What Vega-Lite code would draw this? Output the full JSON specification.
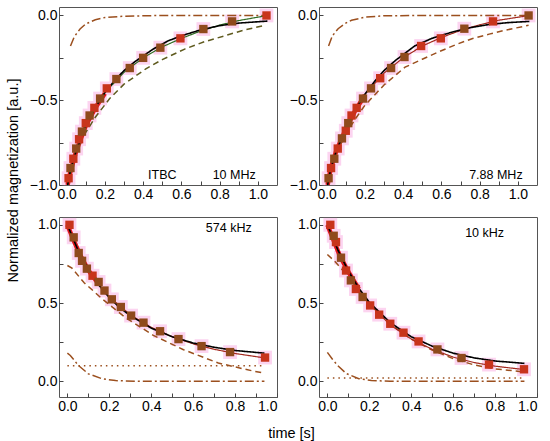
{
  "$schema": "https://vega.github.io/schema/vega-lite/v6.json",
  "padding": {"left": 4, "top": 6, "right": 5, "bottom": 3},
  "config": {
    "font": "Liberation Sans",
    "view": {"stroke": "#555555", "strokeWidth": 1},
    "axis": {
      "grid": false,
      "domain": false,
      "labelFont": "Liberation Sans",
      "labelFontSize": 14,
      "labelColor": "#000000",
      "tickColor": "#444444",
      "tickSize": -4,
      "labelPadding": 6,
      "titleFont": "Liberation Sans",
      "titleFontSize": 14.5,
      "titleFontWeight": "normal",
      "titleColor": "#000000"
    },
    "text": {"font": "Liberation Sans", "fontSize": 12.5, "color": "#000000"}
  },
  "data": {
    "values": [
      {"p": 1, "s": "red", "t": 0.005, "m": -1.0},
      {"p": 1, "s": "red", "t": 0.02, "m": -0.92},
      {"p": 1, "s": "red", "t": 0.05, "m": -0.8},
      {"p": 1, "s": "red", "t": 0.1, "m": -0.65},
      {"p": 1, "s": "red", "t": 0.15, "m": -0.545},
      {"p": 1, "s": "red", "t": 0.2, "m": -0.46},
      {"p": 1, "s": "dashg", "t": 0.005, "m": -0.92},
      {"p": 1, "s": "dashg", "t": 0.05, "m": -0.8},
      {"p": 1, "s": "dashg", "t": 0.1, "m": -0.69},
      {"p": 1, "s": "dashg", "t": 0.15, "m": -0.6},
      {"p": 1, "s": "dashg", "t": 0.225, "m": -0.49},
      {"p": 1, "s": "dashg", "t": 0.3, "m": -0.405},
      {"p": 1, "s": "dashg", "t": 0.414, "m": -0.315},
      {"p": 1, "s": "dashg", "t": 0.5, "m": -0.26},
      {"p": 1, "s": "dashg", "t": 0.62, "m": -0.197},
      {"p": 1, "s": "dashg", "t": 0.72, "m": -0.155},
      {"p": 1, "s": "dashg", "t": 0.826, "m": -0.12},
      {"p": 1, "s": "dashg", "t": 0.93, "m": -0.085},
      {"p": 1, "s": "dashg", "t": 1.03, "m": -0.06},
      {"p": 1, "s": "dashdot", "t": 0.02, "m": -0.18},
      {"p": 1, "s": "dashdot", "t": 0.04, "m": -0.125},
      {"p": 1, "s": "dashdot", "t": 0.07, "m": -0.08},
      {"p": 1, "s": "dashdot", "t": 0.1, "m": -0.05},
      {"p": 1, "s": "dashdot", "t": 0.15, "m": -0.025},
      {"p": 1, "s": "dashdot", "t": 0.2, "m": -0.012},
      {"p": 1, "s": "dashdot", "t": 0.3, "m": -0.004},
      {"p": 1, "s": "dashdot", "t": 0.5, "m": 0.0},
      {"p": 1, "s": "dashdot", "t": 1.05, "m": 0.0},
      {"p": 1, "s": "fitg", "t": 0.005, "m": -1.0},
      {"p": 1, "s": "fitg", "t": 0.05, "m": -0.79},
      {"p": 1, "s": "fitg", "t": 0.1, "m": -0.645},
      {"p": 1, "s": "fitg", "t": 0.15, "m": -0.54},
      {"p": 1, "s": "fitg", "t": 0.2, "m": -0.455},
      {"p": 1, "s": "fitg", "t": 0.3, "m": -0.335},
      {"p": 1, "s": "fitg", "t": 0.4, "m": -0.25},
      {"p": 1, "s": "fitg", "t": 0.5, "m": -0.185},
      {"p": 1, "s": "fitg", "t": 0.6, "m": -0.135},
      {"p": 1, "s": "fitg", "t": 0.7, "m": -0.092},
      {"p": 1, "s": "fitg", "t": 0.8, "m": -0.057},
      {"p": 1, "s": "fitg", "t": 0.9, "m": -0.03},
      {"p": 1, "s": "fitg", "t": 1.05, "m": 0.0},
      {"p": 1, "s": "black", "t": 0.005, "m": -1.0},
      {"p": 1, "s": "black", "t": 0.02, "m": -0.91},
      {"p": 1, "s": "black", "t": 0.05, "m": -0.8},
      {"p": 1, "s": "black", "t": 0.1, "m": -0.655},
      {"p": 1, "s": "black", "t": 0.15, "m": -0.545},
      {"p": 1, "s": "black", "t": 0.2, "m": -0.455},
      {"p": 1, "s": "black", "t": 0.25, "m": -0.385},
      {"p": 1, "s": "black", "t": 0.3, "m": -0.325},
      {"p": 1, "s": "black", "t": 0.36, "m": -0.27},
      {"p": 1, "s": "black", "t": 0.45, "m": -0.2},
      {"p": 1, "s": "black", "t": 0.53, "m": -0.15},
      {"p": 1, "s": "black", "t": 0.6, "m": -0.12},
      {"p": 1, "s": "black", "t": 0.7, "m": -0.085},
      {"p": 1, "s": "black", "t": 0.8, "m": -0.06},
      {"p": 1, "s": "black", "t": 0.9, "m": -0.045},
      {"p": 1, "s": "black", "t": 1.05, "m": -0.033},
      {"p": 1, "s": "pt", "g": 1, "t": 0.01, "m": -0.96},
      {"p": 1, "s": "pt", "g": 2, "t": 0.02, "m": -0.9},
      {"p": 1, "s": "pt", "g": 1, "t": 0.035, "m": -0.845},
      {"p": 1, "s": "pt", "g": 2, "t": 0.05, "m": -0.785},
      {"p": 1, "s": "pt", "g": 1, "t": 0.065, "m": -0.73},
      {"p": 1, "s": "pt", "g": 2, "t": 0.08, "m": -0.685},
      {"p": 1, "s": "pt", "g": 1, "t": 0.1, "m": -0.635},
      {"p": 1, "s": "pt", "g": 2, "t": 0.12, "m": -0.59},
      {"p": 1, "s": "pt", "g": 1, "t": 0.145, "m": -0.545},
      {"p": 1, "s": "pt", "g": 2, "t": 0.175, "m": -0.49},
      {"p": 1, "s": "pt", "g": 1, "t": 0.21, "m": -0.43},
      {"p": 1, "s": "pt", "g": 2, "t": 0.26, "m": -0.375},
      {"p": 1, "s": "pt", "g": 2, "t": 0.33, "m": -0.31},
      {"p": 1, "s": "pt", "g": 2, "t": 0.4, "m": -0.25},
      {"p": 1, "s": "pt", "g": 2, "t": 0.49, "m": -0.19},
      {"p": 1, "s": "pt", "g": 1, "t": 0.595, "m": -0.135},
      {"p": 1, "s": "pt", "g": 2, "t": 0.715, "m": -0.08},
      {"p": 1, "s": "pt", "g": 2, "t": 0.865, "m": -0.035},
      {"p": 1, "s": "pt", "g": 1, "t": 1.045, "m": 0.0},

      {"p": 2, "s": "red", "t": 0.005, "m": -1.0},
      {"p": 2, "s": "red", "t": 0.02, "m": -0.91},
      {"p": 2, "s": "red", "t": 0.05, "m": -0.8},
      {"p": 2, "s": "red", "t": 0.1, "m": -0.67},
      {"p": 2, "s": "red", "t": 0.15, "m": -0.56},
      {"p": 2, "s": "red", "t": 0.2, "m": -0.47},
      {"p": 2, "s": "dash", "t": 0.005, "m": -0.92},
      {"p": 2, "s": "dash", "t": 0.05, "m": -0.81},
      {"p": 2, "s": "dash", "t": 0.1, "m": -0.7},
      {"p": 2, "s": "dash", "t": 0.15, "m": -0.61},
      {"p": 2, "s": "dash", "t": 0.2, "m": -0.53},
      {"p": 2, "s": "dash", "t": 0.3, "m": -0.41},
      {"p": 2, "s": "dash", "t": 0.41, "m": -0.305},
      {"p": 2, "s": "dash", "t": 0.5, "m": -0.258},
      {"p": 2, "s": "dash", "t": 0.585, "m": -0.215},
      {"p": 2, "s": "dash", "t": 0.68, "m": -0.17},
      {"p": 2, "s": "dash", "t": 0.76, "m": -0.137},
      {"p": 2, "s": "dash", "t": 0.85, "m": -0.11},
      {"p": 2, "s": "dash", "t": 0.933, "m": -0.087},
      {"p": 2, "s": "dash", "t": 1.056, "m": -0.058},
      {"p": 2, "s": "dashdot", "t": 0.01, "m": -0.18},
      {"p": 2, "s": "dashdot", "t": 0.03, "m": -0.12},
      {"p": 2, "s": "dashdot", "t": 0.06, "m": -0.078},
      {"p": 2, "s": "dashdot", "t": 0.1, "m": -0.045},
      {"p": 2, "s": "dashdot", "t": 0.13, "m": -0.028},
      {"p": 2, "s": "dashdot", "t": 0.2, "m": -0.01},
      {"p": 2, "s": "dashdot", "t": 0.3, "m": -0.002},
      {"p": 2, "s": "dashdot", "t": 0.5, "m": 0.0},
      {"p": 2, "s": "dashdot", "t": 1.06, "m": 0.0},
      {"p": 2, "s": "fit", "t": 0.005, "m": -1.0},
      {"p": 2, "s": "fit", "t": 0.05, "m": -0.8},
      {"p": 2, "s": "fit", "t": 0.1, "m": -0.66},
      {"p": 2, "s": "fit", "t": 0.15, "m": -0.55},
      {"p": 2, "s": "fit", "t": 0.2, "m": -0.465},
      {"p": 2, "s": "fit", "t": 0.3, "m": -0.34},
      {"p": 2, "s": "fit", "t": 0.4, "m": -0.25},
      {"p": 2, "s": "fit", "t": 0.5, "m": -0.18},
      {"p": 2, "s": "fit", "t": 0.6, "m": -0.13},
      {"p": 2, "s": "fit", "t": 0.7, "m": -0.088},
      {"p": 2, "s": "fit", "t": 0.8, "m": -0.055},
      {"p": 2, "s": "fit", "t": 0.9, "m": -0.028},
      {"p": 2, "s": "fit", "t": 1.06, "m": 0.0},
      {"p": 2, "s": "black", "t": 0.005, "m": -1.0},
      {"p": 2, "s": "black", "t": 0.02, "m": -0.91},
      {"p": 2, "s": "black", "t": 0.05, "m": -0.8},
      {"p": 2, "s": "black", "t": 0.1, "m": -0.665},
      {"p": 2, "s": "black", "t": 0.15, "m": -0.555},
      {"p": 2, "s": "black", "t": 0.2, "m": -0.465},
      {"p": 2, "s": "black", "t": 0.25, "m": -0.39},
      {"p": 2, "s": "black", "t": 0.3, "m": -0.325},
      {"p": 2, "s": "black", "t": 0.36, "m": -0.265},
      {"p": 2, "s": "black", "t": 0.46, "m": -0.18},
      {"p": 2, "s": "black", "t": 0.55, "m": -0.135},
      {"p": 2, "s": "black", "t": 0.65, "m": -0.1},
      {"p": 2, "s": "black", "t": 0.75, "m": -0.072},
      {"p": 2, "s": "black", "t": 0.85, "m": -0.053},
      {"p": 2, "s": "black", "t": 0.95, "m": -0.042},
      {"p": 2, "s": "black", "t": 1.06, "m": -0.035},
      {"p": 2, "s": "pt", "g": 2, "t": 0.01, "m": -0.96},
      {"p": 2, "s": "pt", "g": 1, "t": 0.023, "m": -0.9},
      {"p": 2, "s": "pt", "g": 2, "t": 0.04, "m": -0.845},
      {"p": 2, "s": "pt", "g": 1, "t": 0.058, "m": -0.785},
      {"p": 2, "s": "pt", "g": 2, "t": 0.08, "m": -0.725},
      {"p": 2, "s": "pt", "g": 1, "t": 0.1, "m": -0.68},
      {"p": 2, "s": "pt", "g": 2, "t": 0.113, "m": -0.635},
      {"p": 2, "s": "pt", "g": 1, "t": 0.13, "m": -0.59},
      {"p": 2, "s": "pt", "g": 1, "t": 0.157, "m": -0.545},
      {"p": 2, "s": "pt", "g": 2, "t": 0.19, "m": -0.49},
      {"p": 2, "s": "pt", "g": 2, "t": 0.232, "m": -0.43},
      {"p": 2, "s": "pt", "g": 1, "t": 0.28, "m": -0.37},
      {"p": 2, "s": "pt", "g": 2, "t": 0.337, "m": -0.31},
      {"p": 2, "s": "pt", "g": 2, "t": 0.407, "m": -0.245},
      {"p": 2, "s": "pt", "g": 1, "t": 0.494, "m": -0.18},
      {"p": 2, "s": "pt", "g": 1, "t": 0.597, "m": -0.135},
      {"p": 2, "s": "pt", "g": 2, "t": 0.72, "m": -0.078},
      {"p": 2, "s": "pt", "g": 1, "t": 0.87, "m": -0.035},
      {"p": 2, "s": "pt", "g": 2, "t": 1.056, "m": 0.0},

      {"p": 3, "s": "red", "t": 0.0, "m": 1.0},
      {"p": 3, "s": "red", "t": 0.03, "m": 0.9},
      {"p": 3, "s": "red", "t": 0.06, "m": 0.81},
      {"p": 3, "s": "red", "t": 0.1, "m": 0.71},
      {"p": 3, "s": "red", "t": 0.15, "m": 0.62},
      {"p": 3, "s": "dash", "t": 0.0, "m": 0.74},
      {"p": 3, "s": "dash", "t": 0.022, "m": 0.723},
      {"p": 3, "s": "dash", "t": 0.08, "m": 0.63},
      {"p": 3, "s": "dash", "t": 0.165, "m": 0.528},
      {"p": 3, "s": "dash", "t": 0.276, "m": 0.408},
      {"p": 3, "s": "dash", "t": 0.41, "m": 0.294},
      {"p": 3, "s": "dash", "t": 0.554, "m": 0.202},
      {"p": 3, "s": "dash", "t": 0.72, "m": 0.117},
      {"p": 3, "s": "dash", "t": 0.879, "m": 0.068},
      {"p": 3, "s": "dash", "t": 0.94, "m": 0.052},
      {"p": 3, "s": "dot", "t": 0.0, "m": 0.1},
      {"p": 3, "s": "dot", "t": 0.94, "m": 0.1},
      {"p": 3, "s": "dashdot", "t": 0.0, "m": 0.18},
      {"p": 3, "s": "dashdot", "t": 0.014, "m": 0.165},
      {"p": 3, "s": "dashdot", "t": 0.054, "m": 0.1},
      {"p": 3, "s": "dashdot", "t": 0.1, "m": 0.048},
      {"p": 3, "s": "dashdot", "t": 0.165, "m": 0.017},
      {"p": 3, "s": "dashdot", "t": 0.23, "m": 0.005},
      {"p": 3, "s": "dashdot", "t": 0.35, "m": 0.0},
      {"p": 3, "s": "dashdot", "t": 0.94, "m": 0.0},
      {"p": 3, "s": "fit", "t": 0.0, "m": 1.0},
      {"p": 3, "s": "fit", "t": 0.05, "m": 0.845},
      {"p": 3, "s": "fit", "t": 0.1, "m": 0.72},
      {"p": 3, "s": "fit", "t": 0.15, "m": 0.62},
      {"p": 3, "s": "fit", "t": 0.2, "m": 0.54},
      {"p": 3, "s": "fit", "t": 0.3, "m": 0.425},
      {"p": 3, "s": "fit", "t": 0.4, "m": 0.345},
      {"p": 3, "s": "fit", "t": 0.5, "m": 0.285},
      {"p": 3, "s": "fit", "t": 0.6, "m": 0.24},
      {"p": 3, "s": "fit", "t": 0.7, "m": 0.205},
      {"p": 3, "s": "fit", "t": 0.8, "m": 0.178},
      {"p": 3, "s": "fit", "t": 0.94, "m": 0.15},
      {"p": 3, "s": "black", "t": 0.0, "m": 1.0},
      {"p": 3, "s": "black", "t": 0.05, "m": 0.84},
      {"p": 3, "s": "black", "t": 0.1, "m": 0.715},
      {"p": 3, "s": "black", "t": 0.15, "m": 0.615},
      {"p": 3, "s": "black", "t": 0.2, "m": 0.535},
      {"p": 3, "s": "black", "t": 0.25, "m": 0.47},
      {"p": 3, "s": "black", "t": 0.3, "m": 0.42},
      {"p": 3, "s": "black", "t": 0.4, "m": 0.34},
      {"p": 3, "s": "black", "t": 0.5, "m": 0.285},
      {"p": 3, "s": "black", "t": 0.6, "m": 0.245},
      {"p": 3, "s": "black", "t": 0.7, "m": 0.218},
      {"p": 3, "s": "black", "t": 0.8, "m": 0.197},
      {"p": 3, "s": "black", "t": 0.94, "m": 0.18},
      {"p": 3, "s": "pt", "g": 1, "t": 0.01, "m": 1.0},
      {"p": 3, "s": "pt", "g": 2, "t": 0.03, "m": 0.92},
      {"p": 3, "s": "pt", "g": 2, "t": 0.054, "m": 0.82},
      {"p": 3, "s": "pt", "g": 2, "t": 0.07, "m": 0.77},
      {"p": 3, "s": "pt", "g": 2, "t": 0.093, "m": 0.72},
      {"p": 3, "s": "pt", "g": 1, "t": 0.12, "m": 0.675},
      {"p": 3, "s": "pt", "g": 2, "t": 0.149, "m": 0.635},
      {"p": 3, "s": "pt", "g": 2, "t": 0.177, "m": 0.58},
      {"p": 3, "s": "pt", "g": 2, "t": 0.212, "m": 0.524},
      {"p": 3, "s": "pt", "g": 2, "t": 0.255, "m": 0.475},
      {"p": 3, "s": "pt", "g": 2, "t": 0.304, "m": 0.42},
      {"p": 3, "s": "pt", "g": 2, "t": 0.363, "m": 0.375},
      {"p": 3, "s": "pt", "g": 2, "t": 0.442, "m": 0.32},
      {"p": 3, "s": "pt", "g": 2, "t": 0.53, "m": 0.27},
      {"p": 3, "s": "pt", "g": 2, "t": 0.64, "m": 0.225},
      {"p": 3, "s": "pt", "g": 2, "t": 0.776, "m": 0.187},
      {"p": 3, "s": "pt", "g": 1, "t": 0.943, "m": 0.152},

      {"p": 4, "s": "red", "t": 0.0, "m": 1.0},
      {"p": 4, "s": "red", "t": 0.03, "m": 0.9},
      {"p": 4, "s": "red", "t": 0.06, "m": 0.8},
      {"p": 4, "s": "red", "t": 0.1, "m": 0.7},
      {"p": 4, "s": "red", "t": 0.15, "m": 0.59},
      {"p": 4, "s": "dash", "t": 0.0, "m": 0.81},
      {"p": 4, "s": "dash", "t": 0.033, "m": 0.77},
      {"p": 4, "s": "dash", "t": 0.073, "m": 0.71},
      {"p": 4, "s": "dash", "t": 0.1, "m": 0.665},
      {"p": 4, "s": "dash", "t": 0.15, "m": 0.575},
      {"p": 4, "s": "dash", "t": 0.2, "m": 0.495},
      {"p": 4, "s": "dash", "t": 0.3, "m": 0.365},
      {"p": 4, "s": "dash", "t": 0.4, "m": 0.27},
      {"p": 4, "s": "dash", "t": 0.5, "m": 0.2},
      {"p": 4, "s": "dash", "t": 0.6, "m": 0.145},
      {"p": 4, "s": "dash", "t": 0.7, "m": 0.105},
      {"p": 4, "s": "dash", "t": 0.8, "m": 0.08},
      {"p": 4, "s": "dash", "t": 0.94, "m": 0.06},
      {"p": 4, "s": "dot", "t": 0.0, "m": 0.022},
      {"p": 4, "s": "dot", "t": 0.94, "m": 0.022},
      {"p": 4, "s": "dashdot", "t": 0.0, "m": 0.185},
      {"p": 4, "s": "dashdot", "t": 0.025, "m": 0.14},
      {"p": 4, "s": "dashdot", "t": 0.05, "m": 0.1},
      {"p": 4, "s": "dashdot", "t": 0.09, "m": 0.05},
      {"p": 4, "s": "dashdot", "t": 0.15, "m": 0.017},
      {"p": 4, "s": "dashdot", "t": 0.21, "m": 0.006},
      {"p": 4, "s": "dashdot", "t": 0.3, "m": 0.0},
      {"p": 4, "s": "dashdot", "t": 0.94, "m": 0.0},
      {"p": 4, "s": "fit", "t": 0.0, "m": 1.0},
      {"p": 4, "s": "fit", "t": 0.05, "m": 0.835},
      {"p": 4, "s": "fit", "t": 0.1, "m": 0.7},
      {"p": 4, "s": "fit", "t": 0.15, "m": 0.59},
      {"p": 4, "s": "fit", "t": 0.2, "m": 0.495},
      {"p": 4, "s": "fit", "t": 0.3, "m": 0.36},
      {"p": 4, "s": "fit", "t": 0.4, "m": 0.27},
      {"p": 4, "s": "fit", "t": 0.5, "m": 0.205},
      {"p": 4, "s": "fit", "t": 0.6, "m": 0.155},
      {"p": 4, "s": "fit", "t": 0.7, "m": 0.12},
      {"p": 4, "s": "fit", "t": 0.8, "m": 0.097},
      {"p": 4, "s": "fit", "t": 0.94, "m": 0.075},
      {"p": 4, "s": "black", "t": 0.0, "m": 1.0},
      {"p": 4, "s": "black", "t": 0.05, "m": 0.84},
      {"p": 4, "s": "black", "t": 0.1, "m": 0.705},
      {"p": 4, "s": "black", "t": 0.15, "m": 0.595},
      {"p": 4, "s": "black", "t": 0.2, "m": 0.505},
      {"p": 4, "s": "black", "t": 0.3, "m": 0.375},
      {"p": 4, "s": "black", "t": 0.4, "m": 0.285},
      {"p": 4, "s": "black", "t": 0.5, "m": 0.225},
      {"p": 4, "s": "black", "t": 0.6, "m": 0.18},
      {"p": 4, "s": "black", "t": 0.7, "m": 0.15},
      {"p": 4, "s": "black", "t": 0.8, "m": 0.13},
      {"p": 4, "s": "black", "t": 0.94, "m": 0.115},
      {"p": 4, "s": "pt", "g": 1, "t": 0.014, "m": 1.0},
      {"p": 4, "s": "pt", "g": 2, "t": 0.03, "m": 0.93},
      {"p": 4, "s": "pt", "g": 1, "t": 0.041, "m": 0.89},
      {"p": 4, "s": "pt", "g": 2, "t": 0.065, "m": 0.79},
      {"p": 4, "s": "pt", "g": 1, "t": 0.089, "m": 0.708},
      {"p": 4, "s": "pt", "g": 2, "t": 0.112, "m": 0.645},
      {"p": 4, "s": "pt", "g": 1, "t": 0.136, "m": 0.59},
      {"p": 4, "s": "pt", "g": 2, "t": 0.168, "m": 0.539},
      {"p": 4, "s": "pt", "g": 1, "t": 0.204, "m": 0.485},
      {"p": 4, "s": "pt", "g": 1, "t": 0.247, "m": 0.426},
      {"p": 4, "s": "pt", "g": 1, "t": 0.3, "m": 0.368},
      {"p": 4, "s": "pt", "g": 1, "t": 0.363, "m": 0.311},
      {"p": 4, "s": "pt", "g": 1, "t": 0.435, "m": 0.255},
      {"p": 4, "s": "pt", "g": 2, "t": 0.525, "m": 0.204},
      {"p": 4, "s": "pt", "g": 2, "t": 0.64, "m": 0.149},
      {"p": 4, "s": "pt", "g": 1, "t": 0.771, "m": 0.107},
      {"p": 4, "s": "pt", "g": 1, "t": 0.938, "m": 0.077}
    ]
  },
  "columns": 2,
  "spacing": {"row": 32, "column": 42},
  "bounds": "flush",
  "resolve": {"scale": {"x": "independent", "y": "independent"}},
  "concat": [
    {
      "width": 218,
      "height": 178,
      "transform": [{"filter": "datum.p == 1"}],
      "encoding": {
        "x": {
          "field": "t", "type": "quantitative",
          "scale": {"domain": [-0.04, 1.1], "nice": false, "zero": false},
          "axis": {"title": null, "values": [0, 0.1, 0.2, 0.3, 0.4, 0.5, 0.6, 0.7, 0.8, 0.9, 1.0],
                   "labelExpr": "abs(datum.value * 5 - round(datum.value * 5)) < 0.01 ? format(datum.value, '.1f') : ''"}
        },
        "y": {
          "field": "m", "type": "quantitative",
          "scale": {"domain": [-1.0, 0.05], "nice": false, "zero": false},
          "axis": {"title": "Normalized magnetization [a.u.]", "titleX": -46, "titleY": 173, "titleBaseline": "middle",
                   "values": [-1.0, -0.75, -0.5, -0.25, 0.0],
                   "labelExpr": "abs(datum.value * 2 - round(datum.value * 2)) < 0.01 ? format(datum.value, '.1f') : ''"}
        }
      },
      "layer": [
        {"transform": [{"filter": "datum.s == 'pt'"}], "mark": {"type": "square", "size": 190, "color": "#fcd4f0", "opacity": 1}},
        {
          "transform": [{"filter": "datum.s != 'pt'"}],
          "mark": {"type": "line", "clip": true},
          "encoding": {
            "color": {"field": "s", "type": "nominal", "legend": null,
                      "scale": {"domain": ["red", "black", "fit", "fitg", "dash", "dashg", "dashdot", "dot"],
                                "range": ["#e3161c", "#000000", "#a3281e", "#2f6b22", "#9b4f1e", "#5f5a1e", "#9b4f1e", "#9b4f1e"]}},
            "strokeDash": {"field": "s", "type": "nominal", "legend": null,
                           "scale": {"domain": ["red", "black", "fit", "fitg", "dash", "dashg", "dashdot", "dot"],
                                     "range": [[1, 0], [1, 0], [1, 0], [1, 0], [6, 4], [6, 4], [9, 3, 2, 3], [1.5, 4]]}},
            "strokeWidth": {"field": "s", "type": "nominal", "legend": null,
                            "scale": {"type": "ordinal", "domain": ["red", "black", "fit", "fitg", "dash", "dashg", "dashdot", "dot"],
                                      "range": [4.5, 1.6, 1.2, 1.2, 1.5, 1.5, 1.5, 1.5]}}
          }
        },
        {"transform": [{"filter": "datum.s == 'pt' && datum.g == 1"}], "mark": {"type": "square", "size": 70, "color": "#c8341c", "opacity": 1}},
        {"transform": [{"filter": "datum.s == 'pt' && datum.g == 2"}], "mark": {"type": "square", "size": 70, "color": "#8f4a1c", "opacity": 1}},
        {"data": {"values": [{"label": "ITBC", "lt": 0.5, "lm": -0.94}, {"label": "10 MHz", "lt": 0.876, "lm": -0.94}]},
         "mark": {"type": "text"},
         "encoding": {"x": {"field": "lt", "type": "quantitative"}, "y": {"field": "lm", "type": "quantitative"}, "text": {"field": "label"}}}
      ]
    },
    {
      "width": 218,
      "height": 178,
      "transform": [{"filter": "datum.p == 2"}],
      "encoding": {
        "x": {
          "field": "t", "type": "quantitative",
          "scale": {"domain": [-0.04, 1.1], "nice": false, "zero": false},
          "axis": {"title": null, "values": [0, 0.1, 0.2, 0.3, 0.4, 0.5, 0.6, 0.7, 0.8, 0.9, 1.0],
                   "labelExpr": "abs(datum.value * 5 - round(datum.value * 5)) < 0.01 ? format(datum.value, '.1f') : ''"}
        },
        "y": {
          "field": "m", "type": "quantitative",
          "scale": {"domain": [-1.0, 0.05], "nice": false, "zero": false},
          "axis": {"title": null, "values": [-1.0, -0.75, -0.5, -0.25, 0.0],
                   "labelExpr": "abs(datum.value * 2 - round(datum.value * 2)) < 0.01 ? format(datum.value, '.1f') : ''"}
        }
      },
      "layer": [
        {"transform": [{"filter": "datum.s == 'pt'"}], "mark": {"type": "square", "size": 190, "color": "#fcd4f0", "opacity": 1}},
        {
          "transform": [{"filter": "datum.s != 'pt'"}],
          "mark": {"type": "line", "clip": true},
          "encoding": {
            "color": {"field": "s", "type": "nominal", "legend": null,
                      "scale": {"domain": ["red", "black", "fit", "fitg", "dash", "dashg", "dashdot", "dot"],
                                "range": ["#e3161c", "#000000", "#a3281e", "#2f6b22", "#9b4f1e", "#5f5a1e", "#9b4f1e", "#9b4f1e"]}},
            "strokeDash": {"field": "s", "type": "nominal", "legend": null,
                           "scale": {"domain": ["red", "black", "fit", "fitg", "dash", "dashg", "dashdot", "dot"],
                                     "range": [[1, 0], [1, 0], [1, 0], [1, 0], [6, 4], [6, 4], [9, 3, 2, 3], [1.5, 4]]}},
            "strokeWidth": {"field": "s", "type": "nominal", "legend": null,
                            "scale": {"type": "ordinal", "domain": ["red", "black", "fit", "fitg", "dash", "dashg", "dashdot", "dot"],
                                      "range": [4.5, 1.6, 1.2, 1.2, 1.5, 1.5, 1.5, 1.5]}}
          }
        },
        {"transform": [{"filter": "datum.s == 'pt' && datum.g == 1"}], "mark": {"type": "square", "size": 70, "color": "#c8341c", "opacity": 1}},
        {"transform": [{"filter": "datum.s == 'pt' && datum.g == 2"}], "mark": {"type": "square", "size": 70, "color": "#8f4a1c", "opacity": 1}},
        {"data": {"values": [{"label": "7.88 MHz", "lt": 0.885, "lm": -0.94}]},
         "mark": {"type": "text"},
         "encoding": {"x": {"field": "lt", "type": "quantitative"}, "y": {"field": "lm", "type": "quantitative"}, "text": {"field": "label"}}}
      ]
    },
    {
      "width": 218,
      "height": 180,
      "transform": [{"filter": "datum.p == 3"}],
      "encoding": {
        "x": {
          "field": "t", "type": "quantitative",
          "scale": {"domain": [-0.04, 1.0], "nice": false, "zero": false},
          "axis": {"title": "time [s]", "titleX": 232, "titleY": 36, "titleBaseline": "middle",
                   "values": [0, 0.1, 0.2, 0.3, 0.4, 0.5, 0.6, 0.7, 0.8, 0.9, 1.0],
                   "labelExpr": "abs(datum.value * 5 - round(datum.value * 5)) < 0.01 ? format(datum.value, '.1f') : ''"}
        },
        "y": {
          "field": "m", "type": "quantitative",
          "scale": {"domain": [-0.1, 1.05], "nice": false, "zero": false},
          "axis": {"title": null, "values": [0.0, 0.25, 0.5, 0.75, 1.0],
                   "labelExpr": "abs(datum.value * 2 - round(datum.value * 2)) < 0.01 ? format(datum.value, '.1f') : ''"}
        }
      },
      "layer": [
        {"transform": [{"filter": "datum.s == 'pt'"}], "mark": {"type": "square", "size": 190, "color": "#fcd4f0", "opacity": 1}},
        {
          "transform": [{"filter": "datum.s != 'pt'"}],
          "mark": {"type": "line", "clip": true},
          "encoding": {
            "color": {"field": "s", "type": "nominal", "legend": null,
                      "scale": {"domain": ["red", "black", "fit", "fitg", "dash", "dashg", "dashdot", "dot"],
                                "range": ["#e3161c", "#000000", "#a3281e", "#2f6b22", "#9b4f1e", "#5f5a1e", "#9b4f1e", "#9b4f1e"]}},
            "strokeDash": {"field": "s", "type": "nominal", "legend": null,
                           "scale": {"domain": ["red", "black", "fit", "fitg", "dash", "dashg", "dashdot", "dot"],
                                     "range": [[1, 0], [1, 0], [1, 0], [1, 0], [6, 4], [6, 4], [9, 3, 2, 3], [1.5, 4]]}},
            "strokeWidth": {"field": "s", "type": "nominal", "legend": null,
                            "scale": {"type": "ordinal", "domain": ["red", "black", "fit", "fitg", "dash", "dashg", "dashdot", "dot"],
                                      "range": [4.5, 1.6, 1.2, 1.2, 1.5, 1.5, 1.5, 1.5]}}
          }
        },
        {"transform": [{"filter": "datum.s == 'pt' && datum.g == 1"}], "mark": {"type": "square", "size": 70, "color": "#c8341c", "opacity": 1}},
        {"transform": [{"filter": "datum.s == 'pt' && datum.g == 2"}], "mark": {"type": "square", "size": 70, "color": "#8f4a1c", "opacity": 1}},
        {"data": {"values": [{"label": "574 kHz", "lt": 0.77, "lm": 0.98}]},
         "mark": {"type": "text"},
         "encoding": {"x": {"field": "lt", "type": "quantitative"}, "y": {"field": "lm", "type": "quantitative"}, "text": {"field": "label"}}}
      ]
    },
    {
      "width": 218,
      "height": 180,
      "transform": [{"filter": "datum.p == 4"}],
      "encoding": {
        "x": {
          "field": "t", "type": "quantitative",
          "scale": {"domain": [-0.04, 1.0], "nice": false, "zero": false},
          "axis": {"title": null, "values": [0, 0.1, 0.2, 0.3, 0.4, 0.5, 0.6, 0.7, 0.8, 0.9, 1.0],
                   "labelExpr": "abs(datum.value * 5 - round(datum.value * 5)) < 0.01 ? format(datum.value, '.1f') : ''"}
        },
        "y": {
          "field": "m", "type": "quantitative",
          "scale": {"domain": [-0.1, 1.05], "nice": false, "zero": false},
          "axis": {"title": null, "values": [0.0, 0.25, 0.5, 0.75, 1.0],
                   "labelExpr": "abs(datum.value * 2 - round(datum.value * 2)) < 0.01 ? format(datum.value, '.1f') : ''"}
        }
      },
      "layer": [
        {"transform": [{"filter": "datum.s == 'pt'"}], "mark": {"type": "square", "size": 190, "color": "#fcd4f0", "opacity": 1}},
        {
          "transform": [{"filter": "datum.s != 'pt'"}],
          "mark": {"type": "line", "clip": true},
          "encoding": {
            "color": {"field": "s", "type": "nominal", "legend": null,
                      "scale": {"domain": ["red", "black", "fit", "fitg", "dash", "dashg", "dashdot", "dot"],
                                "range": ["#e3161c", "#000000", "#a3281e", "#2f6b22", "#9b4f1e", "#5f5a1e", "#9b4f1e", "#9b4f1e"]}},
            "strokeDash": {"field": "s", "type": "nominal", "legend": null,
                           "scale": {"domain": ["red", "black", "fit", "fitg", "dash", "dashg", "dashdot", "dot"],
                                     "range": [[1, 0], [1, 0], [1, 0], [1, 0], [6, 4], [6, 4], [9, 3, 2, 3], [1.5, 4]]}},
            "strokeWidth": {"field": "s", "type": "nominal", "legend": null,
                            "scale": {"type": "ordinal", "domain": ["red", "black", "fit", "fitg", "dash", "dashg", "dashdot", "dot"],
                                      "range": [4.5, 1.6, 1.2, 1.2, 1.5, 1.5, 1.5, 1.5]}}
          }
        },
        {"transform": [{"filter": "datum.s == 'pt' && datum.g == 1"}], "mark": {"type": "square", "size": 70, "color": "#c8341c", "opacity": 1}},
        {"transform": [{"filter": "datum.s == 'pt' && datum.g == 2"}], "mark": {"type": "square", "size": 70, "color": "#8f4a1c", "opacity": 1}},
        {"data": {"values": [{"label": "10 kHz", "lt": 0.75, "lm": 0.95}]},
         "mark": {"type": "text"},
         "encoding": {"x": {"field": "lt", "type": "quantitative"}, "y": {"field": "lm", "type": "quantitative"}, "text": {"field": "label"}}}
      ]
    }
  ]
}
